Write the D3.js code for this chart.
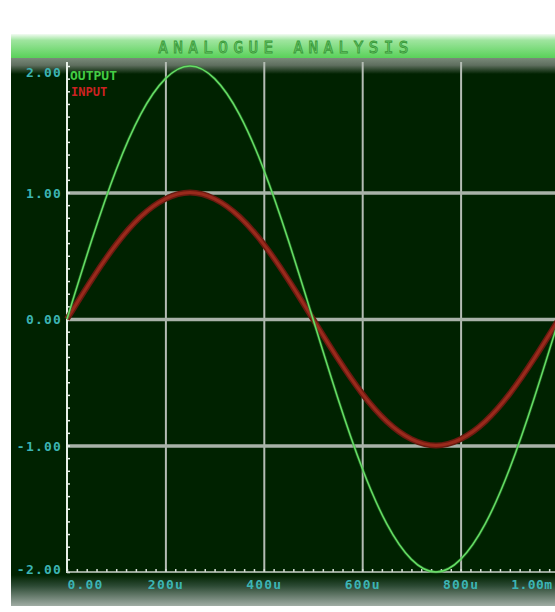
<!DOCTYPE html>
<html><head><meta charset="utf-8">
<script src="https://cdn.jsdelivr.net/npm/d3@7/dist/d3.min.js"></script>
<style>body{margin:0;background:#fff;}svg{display:block;}</style>
</head><body>
<svg id="c" width="555" height="612"></svg>
<script>
const title = "ANALOGUE ANALYSIS";
const timeUs = [0,50,100,150,200,250,300,350,400,450,500,550,600,650,700,750,800,850,900,950,1000];
const outputV = [0,0.62,1.18,1.62,1.90,2.00,1.90,1.62,1.18,0.62,0,-0.62,-1.18,-1.62,-1.90,-2.00,-1.90,-1.62,-1.18,-0.62,0];
const inputV = [0,0.31,0.59,0.81,0.95,1.00,0.95,0.81,0.59,0.31,0,-0.31,-0.59,-0.81,-0.95,-1.00,-0.95,-0.81,-0.59,-0.31,0];
const xTicks = [0,200,400,600,800,1000];
const xTickLabels = ["0.00","200u","400u","600u","800u","1.00m"];
const yTicks = [2,1,0,-1,-2];
const yTickLabels = ["2.00","1.00","0.00","-1.00","-2.00"];
const seriesNames = ["OUTPUT","INPUT"];

const svg = d3.select("#c");
const defs = svg.append("defs");
const hg = defs.append("linearGradient").attr("id","hdr").attr("x1",0).attr("y1",0).attr("x2",0).attr("y2",1);
hg.append("stop").attr("offset","0%").attr("stop-color","#f2fbf2");
hg.append("stop").attr("offset","25%").attr("stop-color","#9fe59f");
hg.append("stop").attr("offset","100%").attr("stop-color","#55d055");
const tg = defs.append("linearGradient").attr("id","topband").attr("x1",0).attr("y1",0).attr("x2",0).attr("y2",1);
tg.append("stop").attr("offset","0%").attr("stop-color","#7a8a7a");
tg.append("stop").attr("offset","45%").attr("stop-color","#5f6f5f");
tg.append("stop").attr("offset","100%").attr("stop-color","#002200");
const bg = defs.append("linearGradient").attr("id","bot").attr("x1",0).attr("y1",0).attr("x2",0).attr("y2",1);
bg.append("stop").attr("offset","0%").attr("stop-color","#002200");
bg.append("stop").attr("offset","35%").attr("stop-color","#2c4a34");
bg.append("stop").attr("offset","100%").attr("stop-color","#a0aca4");

const left = 11, plotTop = 58, plotBottom = 606;
svg.append("rect").attr("x",left).attr("y",34).attr("width",555-left).attr("height",25).attr("fill","url(#hdr)");
svg.append("rect").attr("x",left).attr("y",plotTop).attr("width",555-left).attr("height",plotBottom-plotTop).attr("fill","#002200");
svg.append("rect").attr("x",left).attr("y",58).attr("width",555-left).attr("height",16).attr("fill","url(#topband)");
svg.append("rect").attr("x",left).attr("y",575).attr("width",555-left).attr("height",plotBottom-575).attr("fill","url(#bot)");

svg.append("text").attr("x",286).attr("y",53).attr("text-anchor","middle")
  .attr("font-family","DejaVu Sans Mono").attr("font-size",16).attr("letter-spacing",5.4)
  .attr("fill","#7ad87a").attr("stroke","#3a9a3a").attr("stroke-width",0.9).text(title);

const x = d3.scaleLinear().domain([0,1000]).range([67,559]);
const y = d3.scaleLinear().domain([-2,2]).range([572,66]);

// grid
const gridV = svg.append("g").call(d3.axisBottom(x).tickValues(xTicks.slice(1)).tickSize(-(572-62)).tickFormat(""))
  .attr("transform","translate(0,572)");
gridV.select(".domain").remove();
gridV.selectAll("line").attr("stroke","#b4bcb4").attr("stroke-width",2);
const gridH = svg.append("g").call(d3.axisLeft(y).tickValues([1,0,-1]).tickSize(-(555-67)).tickFormat(""))
  .attr("transform","translate(67,0)");
gridH.select(".domain").remove();
gridH.selectAll("line").attr("stroke","#a8b2a8").attr("stroke-width",3.5);

// minor ticks
const yMinor = d3.range(-20,21).map(d=>d/10);
const ym = svg.append("g").attr("transform","translate(67,0)")
  .call(d3.axisRight(y).tickValues(yMinor).tickSize(3).tickFormat(""));
ym.select(".domain").remove();
ym.selectAll("line").attr("stroke","#e8f0e8").attr("stroke-width",1.5);
const xMinor = d3.range(0,1001,20);
const xm = svg.append("g").attr("transform","translate(0,572)")
  .call(d3.axisTop(x).tickValues(xMinor).tickSize(3).tickFormat(""));
xm.select(".domain").remove();
xm.selectAll("line").attr("stroke","#d8e0d8").attr("stroke-width",1.5);

// axis lines
svg.append("line").attr("x1",67).attr("x2",67).attr("y1",62).attr("y2",573).attr("stroke","#e8f0e8").attr("stroke-width",2);
svg.append("line").attr("x1",66).attr("x2",555).attr("y1",572).attr("y2",572).attr("stroke","#c8d0c8").attr("stroke-width",1.5);

// tick labels
const yl = svg.append("g").attr("transform","translate(62,0)")
  .call(d3.axisLeft(y).tickValues(yTicks).tickSize(0).tickPadding(0).tickFormat((d,i)=>yTickLabels[i]));
yl.select(".domain").remove();
yl.selectAll("text").attr("font-family","DejaVu Sans Mono").attr("font-size",13).attr("font-weight","bold")
  .attr("letter-spacing",1.2).attr("fill","#3cb4b4").attr("dy","0.35em");
yl.selectAll(".tick").filter(d=>d===2).select("text").attr("dy","0.8em");
yl.selectAll(".tick").filter(d=>d===-2).select("text").attr("dy","0.1em");

const xl = svg.append("g").attr("transform","translate(0,572)")
  .call(d3.axisBottom(x).tickValues(xTicks).tickSize(0).tickPadding(8).tickFormat((d,i)=>xTickLabels[i]));
xl.select(".domain").remove();
xl.selectAll("text").attr("font-family","DejaVu Sans Mono").attr("font-size",13).attr("font-weight","bold")
  .attr("letter-spacing",1.2).attr("fill","#3cb4b4");
xl.selectAll(".tick").filter(d=>d===0).select("text").attr("text-anchor","start");
xl.selectAll(".tick").filter(d=>d===1000).select("text").attr("text-anchor","end").attr("letter-spacing",0.4).attr("dx","-7");

// curves
const line = d3.line().x((d,i)=>x(timeUs[i])).y(d=>y(d)).curve(d3.curveNatural);
svg.append("path").datum(inputV).attr("d",line).attr("fill","none").attr("stroke","#6a1a10").attr("stroke-width",6);
svg.append("path").datum(inputV).attr("d",line).attr("fill","none").attr("stroke","#9a2a1c").attr("stroke-width",3);
svg.append("path").datum(outputV).attr("d",line).attr("fill","none").attr("stroke","#2e8a2e").attr("stroke-width",3).attr("opacity",0.5);
svg.append("path").datum(outputV).attr("d",line).attr("fill","none").attr("stroke","#66dd66").attr("stroke-width",1.5);

// legend
svg.append("text").attr("x",70).attr("y",80).attr("font-family","DejaVu Sans Mono").attr("font-size",13)
  .attr("font-weight","bold").attr("fill","#44cc44").text(seriesNames[0]);
svg.append("text").attr("x",71).attr("y",96).attr("font-family","DejaVu Sans Mono").attr("font-size",12)
  .attr("font-weight","bold").attr("fill","#cc2222").text(seriesNames[1]);
</script>
</body></html>
